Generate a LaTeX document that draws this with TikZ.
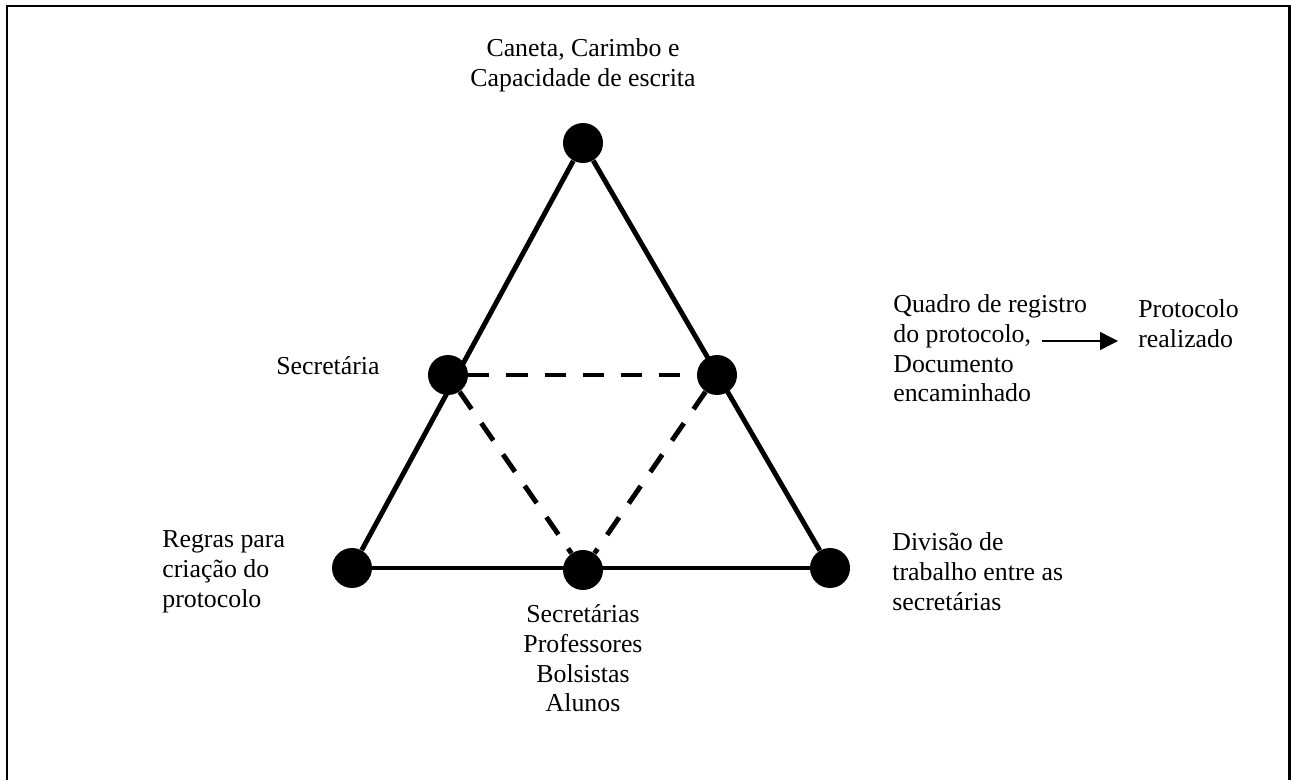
\documentclass[tikz,border=0pt]{standalone}
\usepackage{fontspec}
\setmainfont{Liberation Serif}
\usetikzlibrary{arrows.meta}

\begin{document}
\begin{tikzpicture}[x=0.02cm,y=-0.02cm,
    dot/.style={circle,fill=black,inner sep=0pt,minimum size=0.8cm},
    lbl/.style={inner sep=0pt,font=\fontsize{14.7}{17}\selectfont},
    side/.style={line width=2.8pt},
    inner/.style={line width=2.8pt,dash pattern=on 12pt off 9.7pt}]
    \useasboundingbox (0,0) rectangle (1291,780);
    \draw[line width=1.7pt] (7,790) -- (7,6) -- (1289,6) -- (1289,790);
    \node[dot] (top) at (583,143) {};
    \node[dot] (sec) at (448,375) {};
    \node[dot] (quad) at (717,375) {};
    \node[dot] (regras) at (352,568) {};
    \node[dot] (suj) at (583,570) {};
    \node[dot] (divisao) at (830,568) {};
    \draw[side] (top) -- (regras);
    \draw[side] (top) -- (divisao);
    \draw[side] (regras) -- (divisao);
    \draw[inner] (sec) -- (quad);
    \draw[inner] (sec) -- (suj);
    \draw[inner] (quad) -- (suj);
    \node[lbl,align=center,anchor=north] (topl) at (583,38) {Caneta, Carimbo e\\Capacidade de escrita};
    \node[lbl,anchor=base west] (secl) at (276,375) {Secretária};
    \node[lbl,align=left,anchor=north west] (quadl) at (893,294) {Quadro de registro\\do protocolo,\\Documento\\encaminhado};
    \node[lbl,align=left,anchor=north west] (protl) at (1138,299) {Protocolo\\realizado};
    \node[lbl,align=left,anchor=north west] (regl) at (162,530) {Regras para\\criação do\\protocolo};
    \node[lbl,align=left,anchor=north west] (divl) at (892,532) {Divisão de\\trabalho entre as\\secretárias};
    \node[lbl,align=center,anchor=north] (sujl) at (583,604) {Secretárias\\Professores\\Bolsistas\\Alunos};
    \coordinate (a1) at (1042,341);
    \coordinate (a2) at (1118,341);
    \draw[line width=0.85pt,-{Triangle[length=0.36cm,width=0.36cm]}] (a1) -- (a2);
\end{tikzpicture}
\end{document}
